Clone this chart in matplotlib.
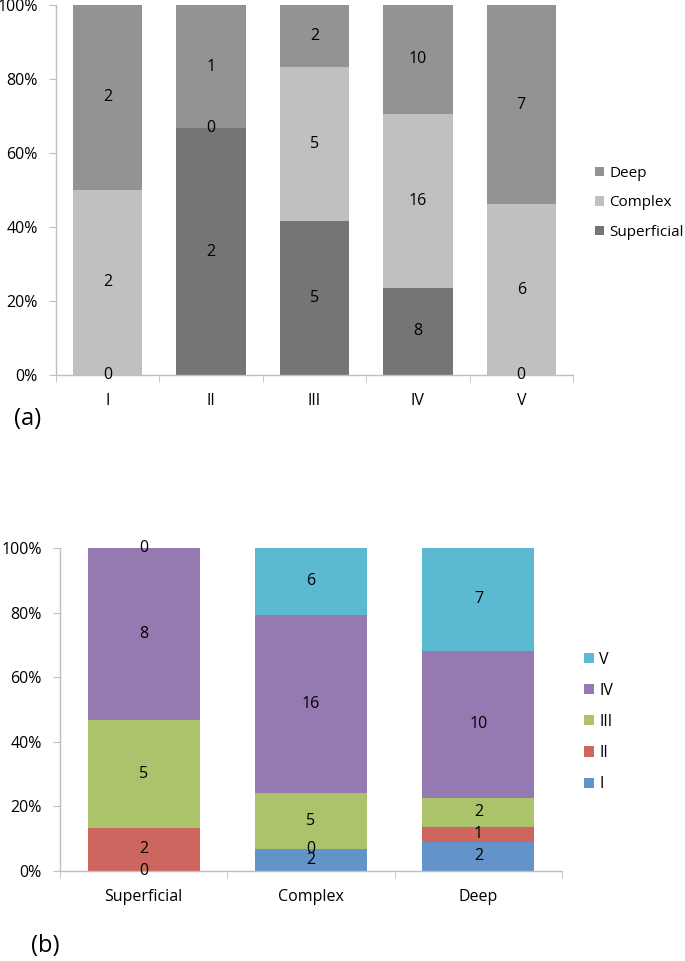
import numpy as np
import matplotlib
matplotlib.use("Agg")
import matplotlib.pyplot as plt
from matplotlib.ticker import FuncFormatter

plt.rcParams['font.family'] = ['Open Sans', 'DejaVu Sans']

# Panel (a)
cats_a = ["I", "II", "III", "IV", "V"]
series_a = ["Superficial", "Complex", "Deep"]
superficial_a = [0, 2, 5, 8, 0]
complex_a = [2, 0, 5, 16, 6]
deep_a = [2, 1, 2, 10, 7]
colors_a = ["#757575", "#c0c0c0", "#939393"]

# Panel (b)
cats_b = ["Superficial", "Complex", "Deep"]
series_b = ["I", "II", "III", "IV", "V"]
I_b = [0, 2, 2]
II_b = [2, 0, 1]
III_b = [5, 5, 2]
IV_b = [8, 16, 10]
V_b = [0, 6, 7]
colors_b = ["#6394c9", "#cd665f", "#abc46c", "#947ab0", "#5cb9d2"]

FS = 11.5

fig = plt.figure(figsize=(6.85, 9.61), dpi=100)


def draw(ax, cats, names, data, colors, legend_y, legend_x, legfs):
    data = np.array(data, dtype=float)
    totals = data.sum(axis=0)
    pct = data / totals * 100
    x = np.arange(len(cats))
    bottom = np.zeros(len(cats))
    handles = []
    for i, name in enumerate(names):
        h = ax.bar(x, pct[i], bottom=bottom, width=0.67, color=colors[i],
                   edgecolor='none', label=name)
        handles.append(h)
        for j in range(len(cats)):
            ax.text(x[j], bottom[j] + pct[i][j] / 2, str(int(data[i][j])),
                    ha='center', va='center', fontsize=FS, color='black')
        bottom = bottom + pct[i]
    ax.set_xlim(-0.5, len(cats) - 0.5)
    ax.set_ylim(0, 100)
    ax.set_yticks([0, 20, 40, 60, 80, 100])
    ax.yaxis.set_major_formatter(FuncFormatter(lambda v, p: f"{int(v)}%"))
    ax.set_xticks(x)
    ax.set_xticklabels(cats)
    ax.set_xticks(np.arange(len(cats) + 1) - 0.5, minor=True)
    ax.tick_params(axis='x', which='major', length=0, pad=13, labelsize=FS)
    ax.tick_params(axis='x', which='minor', length=5, color='#bfbfbf', direction='out')
    ax.tick_params(axis='y', length=5, color='#bfbfbf', labelsize=FS, pad=8)
    for s in ['top', 'right']:
        ax.spines[s].set_visible(False)
    for s in ['left', 'bottom']:
        ax.spines[s].set_color('#bfbfbf')
        ax.spines[s].set_linewidth(1.0)
    fig.legend(handles[::-1], names[::-1], loc='center left',
               bbox_to_anchor=(legend_x, legend_y), frameon=False,
               fontsize=legfs, handlelength=0.6, handleheight=0.6,
               handletextpad=0.35, labelspacing=0.95, borderpad=0, borderaxespad=0)
    return ax


ax1 = fig.add_axes([0.0818, 0.6098, 0.8365 - 0.0818, 0.9948 - 0.6098])
draw(ax1, cats_a, series_a, [superficial_a, complex_a, deep_a], colors_a,
     1 - 203 / 961, 595 / 685, 11)
ax2 = fig.add_axes([0.0876, 0.0937, 0.8204 - 0.0876, 0.4298 - 0.0937])
draw(ax2, cats_b, series_b, [I_b, II_b, III_b, IV_b, V_b], colors_b,
     1 - 722 / 961, 584 / 685, FS)

fig.text(14 / 685, 1 - 419 / 961, "(a)", fontsize=17, va='center', ha='left')
fig.text(31 / 685, 1 - 946 / 961, "(b)", fontsize=17, va='center', ha='left')

fig.savefig("out.png", dpi=100)
